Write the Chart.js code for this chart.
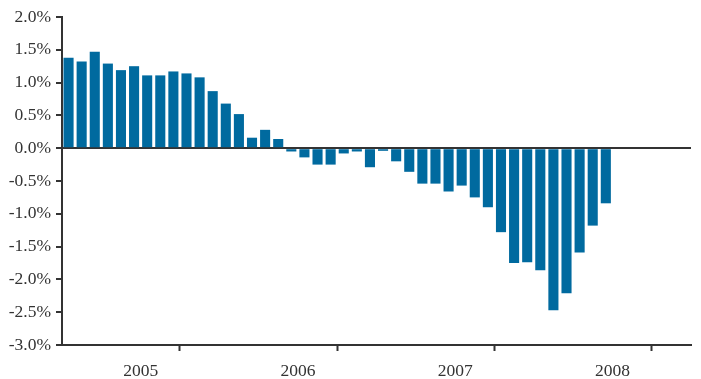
<!DOCTYPE html>
<html>
<head>
<meta charset="utf-8">
<script src="https://cdn.jsdelivr.net/npm/chart.js@4.4.0/dist/chart.umd.min.js"></script>
<style>
  html, body { margin: 0; padding: 0; background: #ffffff; }
  #wrap { width: 701px; height: 379px; position: relative; }
</style>
</head>
<body>
<div id="wrap"><canvas id="c"></canvas></div>
<script>
// Monthly values, Jan 2005 – Jun 2008 (percent)
const years = ['2005', '2006', '2007', '2008'];
const monthsPerYear = 12;
const values = [
  1.38, 1.32, 1.47, 1.29, 1.19, 1.25, 1.11, 1.11, 1.17, 1.14, 1.08, 0.87,
  0.68, 0.52, 0.16, 0.28, 0.14, -0.05, -0.14, -0.25, -0.25, -0.08, -0.05, -0.29,
  -0.04, -0.20, -0.36, -0.54, -0.54, -0.66, -0.57, -0.75, -0.90, -1.28, -1.75, -1.74,
  -1.86, -2.47, -2.21, -1.59, -1.18, -0.84
];
const yTicks = [-3.0, -2.5, -2.0, -1.5, -1.0, -0.5, 0.0, 0.5, 1.0, 1.5, 2.0];

const totalMonths = years.length * monthsPerYear;
const points = values.map((v, i) => ({ x: i + 0.5, y: v }));
const FONT = { family: "'Liberation Serif', 'DejaVu Serif', serif", size: 17.5 };
const INK = '#333333';

new Chart(document.getElementById('c'), {
  type: 'bar',
  data: {
    datasets: [{
      data: points,
      backgroundColor: '#006a9f',
      borderWidth: 0,
      barPercentage: 0.77,
      categoryPercentage: 1.0
    }]
  },
  options: {
    responsive: true,
    maintainAspectRatio: false,
    animation: false,
    layout: { padding: { left: 0, right: 9, top: 17, bottom: 0 } },
    plugins: { legend: { display: false }, tooltip: { enabled: false } },
    scales: {
      x: {
        type: 'linear',
        min: 0,
        max: totalMonths,
        offset: false,
        afterBuildTicks: (axis) => {
          const t = [];
          for (let v = 0; v <= totalMonths; v += monthsPerYear / 2) t.push({ value: v });
          axis.ticks = t;
        },
        afterFit: (axis) => { axis.height = 34; },
        border: { color: INK, width: 2 },
        grid: {
          drawOnChartArea: false,
          tickLength: 6,
          tickWidth: 2,
          tickColor: (ctx) => (ctx.tick && ctx.tick.value % monthsPerYear === 0) ? INK : 'rgba(0,0,0,0)'
        },
        ticks: {
          autoSkip: false,
          maxRotation: 0,
          padding: 10,
          color: INK,
          font: FONT,
          callback: (v) => (v % monthsPerYear === monthsPerYear / 2) ? years[Math.floor(v / monthsPerYear)] : ''
        }
      },
      y: {
        min: -3,
        max: 2,
        z: 1,
        afterBuildTicks: (axis) => { axis.ticks = yTicks.map(v => ({ value: v })); },
        afterFit: (axis) => { axis.width = 62; },
        border: { color: INK, width: 2 },
        grid: {
          drawOnChartArea: true,
          color: (ctx) => (ctx.tick && ctx.tick.value === 0) ? INK : 'rgba(0,0,0,0)',
          lineWidth: 2,
          tickLength: 6,
          tickWidth: 2,
          tickColor: INK
        },
        ticks: {
          padding: 5,
          color: INK,
          font: FONT,
          callback: (v) => Number(v).toFixed(1) + '%'
        }
      }
    }
  }
});
</script>
</body>
</html>
